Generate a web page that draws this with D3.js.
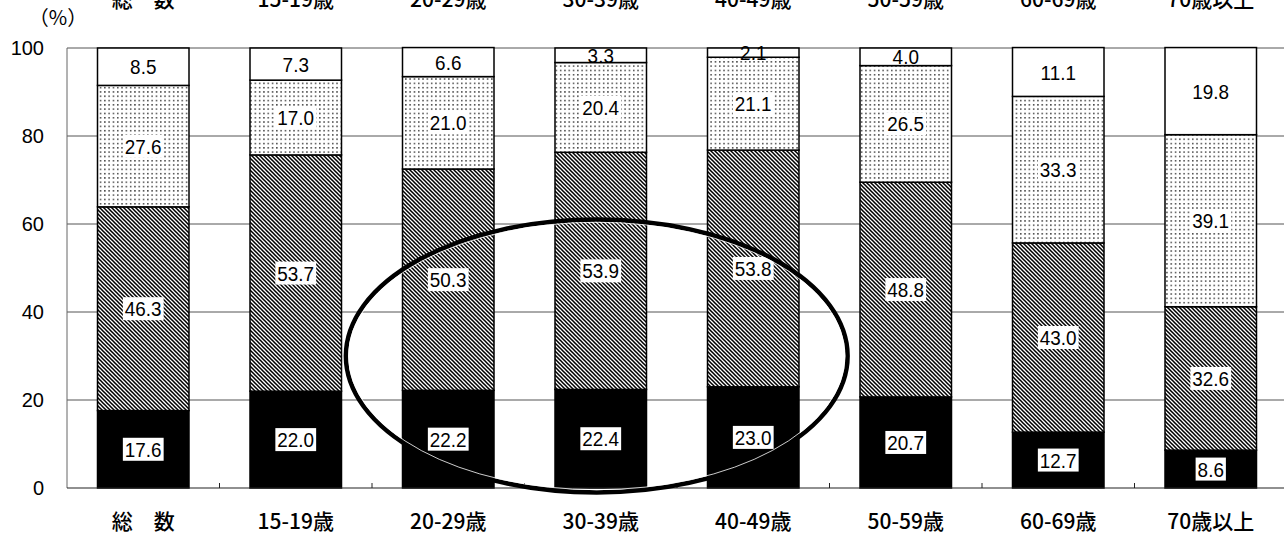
<!DOCTYPE html>
<html>
<head>
<meta charset="utf-8">
<script src="https://cdn.jsdelivr.net/npm/d3@7"></script>
<style>
  html, body { margin: 0; padding: 0; background: #fff; }
  svg { display: block; }
</style>
</head>
<body>
<svg id="chart" width="1284" height="538"></svg>
<script>
// Age groups along the x axis
const categories = ["総　数", "15-19歳", "20-29歳", "30-39歳", "40-49歳", "50-59歳", "60-69歳", "70歳以上"];

// Stacked shares (%), bottom segment first
const seriesSolid  = [17.6, 22.0, 22.2, 22.4, 23.0, 20.7, 12.7, 8.6];
const seriesHatch  = [46.3, 53.7, 50.3, 53.9, 53.8, 48.8, 43.0, 32.6];
const seriesDotted = [27.6, 17.0, 21.0, 20.4, 21.1, 26.5, 33.3, 39.1];
const seriesBlank  = [8.5, 7.3, 6.6, 3.3, 2.1, 4.0, 11.1, 19.8];

const yTicks = [0, 20, 40, 60, 80, 100];
const unitLabel = "（%）";

const series = [
  { key: "solid",  values: seriesSolid,  fill: "#000" },
  { key: "hatch",  values: seriesHatch,  fill: "url(#hatch)" },
  { key: "dotted", values: seriesDotted, fill: "url(#dots)" },
  { key: "blank",  values: seriesBlank,  fill: "#fff" }
];

const svg = d3.select("#chart");
const W = 1284, H = 538;
const margin = { left: 67, top: 48, bottom: 50 };

const x = d3.scaleBand()
  .domain(categories)
  .range([margin.left, margin.left + 152.5 * categories.length])
  .paddingInner(0.4)
  .paddingOuter(0.2);

const y = d3.scaleLinear().domain([0, 100]).range([H - margin.bottom, margin.top]);

// Fill patterns
const defs = svg.append("defs");
const hatch = defs.append("pattern")
  .attr("id", "hatch").attr("patternUnits", "userSpaceOnUse")
  .attr("width", 4).attr("height", 4);
hatch.append("rect").attr("width", 4).attr("height", 4).attr("fill", "#fff");
hatch.append("path")
  .attr("d", "M-1,-1 L5,5 M-1,3 L1,5 M3,-1 L5,1")
  .attr("stroke", "#000").attr("stroke-width", 1.55);

const dots = defs.append("pattern")
  .attr("id", "dots").attr("patternUnits", "userSpaceOnUse")
  .attr("width", 4.3).attr("height", 4.3);
dots.append("rect").attr("width", 4.3).attr("height", 4.3).attr("fill", "#fff");
dots.append("rect").attr("x", 1).attr("y", 1).attr("width", 1.3).attr("height", 1.3).attr("fill", "#000");

// Horizontal grid lines
svg.append("g")
  .selectAll("line")
  .data(yTicks.filter(d => d > 0))
  .join("line")
  .attr("x1", margin.left).attr("x2", W)
  .attr("y1", d => y(d)).attr("y2", d => y(d))
  .attr("stroke", "#555").attr("stroke-width", 1);

// Left axis line
svg.append("line")
  .attr("x1", margin.left).attr("x2", margin.left)
  .attr("y1", y(100)).attr("y2", y(0))
  .attr("stroke", "#666").attr("stroke-width", 1);

// Y tick labels
svg.append("g")
  .selectAll("text")
  .data(yTicks)
  .join("text")
  .attr("x", 44).attr("y", d => y(d))
  .attr("dy", "0.36em")
  .attr("text-anchor", "end")
  .attr("font-family", "Liberation Sans, Arial, sans-serif")
  .attr("font-size", 20)
  .text(d => d);

svg.append("text")
  .attr("x", 58).attr("y", 25)
  .attr("text-anchor", "middle")
  .attr("font-family", "Noto Sans CJK JP, sans-serif")
  .attr("font-size", 20)
  .text(unitLabel);

// Stacked segments
const stacked = categories.map((c, i) => {
  let acc = 0;
  return series.map(s => {
    const v = s.values[i];
    const seg = { cat: c, key: s.key, fill: s.fill, v, y0: acc, y1: acc + v };
    acc += v;
    return seg;
  });
}).flat();

const bars = svg.append("g");
bars.selectAll("rect")
  .data(stacked)
  .join("rect")
  .attr("x", d => x(d.cat))
  .attr("width", x.bandwidth())
  .attr("y", d => y(d.y1))
  .attr("height", d => y(d.y0) - y(d.y1))
  .attr("fill", d => d.fill)
  .attr("stroke", "#000")
  .attr("stroke-width", 1.5);

// Bottom axis line and small ticks between groups
svg.append("line")
  .attr("x1", margin.left).attr("x2", W)
  .attr("y1", y(0)).attr("y2", y(0))
  .attr("stroke", "#222").attr("stroke-width", 1.2);

svg.append("g")
  .selectAll("line")
  .data(categories.slice(1))
  .join("line")
  .attr("x1", d => x(d) - x.step() * 0.2)
  .attr("x2", d => x(d) - x.step() * 0.2)
  .attr("y1", y(0)).attr("y2", y(0) - 5)
  .attr("stroke", "#222").attr("stroke-width", 1);

// Value labels with white boxes
const sx = 0.9;
const labelG = svg.append("g");
const lbl = labelG.selectAll("g")
  .data(stacked)
  .join("g")
  .attr("transform", d => `translate(${x(d.cat) + x.bandwidth() / 2},${y((d.y0 + d.y1) / 2)})`);

lbl.append("text")
  .attr("text-anchor", "middle")
  .attr("dy", "0.36em")
  .attr("font-family", "Liberation Sans, Arial, sans-serif")
  .attr("font-size", 21)
  .attr("transform", `scale(${sx},1)`)
  .text(d => d.v.toFixed(1));

lbl.each(function(d) {
  if (d.key === "blank") return;
  const g = d3.select(this);
  const t = g.select("text").node().getBBox();
  g.insert("rect", "text")
    .attr("x", t.x * sx - 2)
    .attr("y", -11.5)
    .attr("width", t.width * sx + 4)
    .attr("height", 23)
    .attr("fill", "#fff");
});

// Category labels, bottom and (cropped) top
const catFont = "Noto Sans CJK JP, sans-serif";
svg.append("g")
  .selectAll("text")
  .data(categories)
  .join("text")
  .attr("x", d => x(d) + x.bandwidth() / 2)
  .attr("y", 529)
  .attr("text-anchor", "middle")
  .attr("font-family", catFont)
  .attr("font-weight", 500)
  .attr("font-size", 21)
  .text(d => d);

svg.append("g")
  .selectAll("text")
  .data(categories)
  .join("text")
  .attr("x", d => x(d) + x.bandwidth() / 2)
  .attr("y", 7)
  .attr("text-anchor", "middle")
  .attr("font-family", catFont)
  .attr("font-weight", 500)
  .attr("font-size", 21)
  .text(d => d);

// Ellipse highlighting the 20s–40s groups
const ecx = x("30-39歳") + x.bandwidth() / 2 - 4;
const ecy = y(30);
const erx = x.step() * 1.645;
const ery = y(0) - y(31);
svg.append("ellipse")
  .attr("cx", ecx).attr("cy", ecy)
  .attr("rx", erx).attr("ry", ery)
  .attr("fill", "none").attr("stroke", "#000").attr("stroke-width", 4.5);
svg.append("ellipse")
  .attr("cx", ecx).attr("cy", ecy)
  .attr("rx", erx - 2.7).attr("ry", ery - 2.7)
  .attr("fill", "none").attr("stroke", "#fff").attr("stroke-width", 0.8);
</script>
</body>
</html>
